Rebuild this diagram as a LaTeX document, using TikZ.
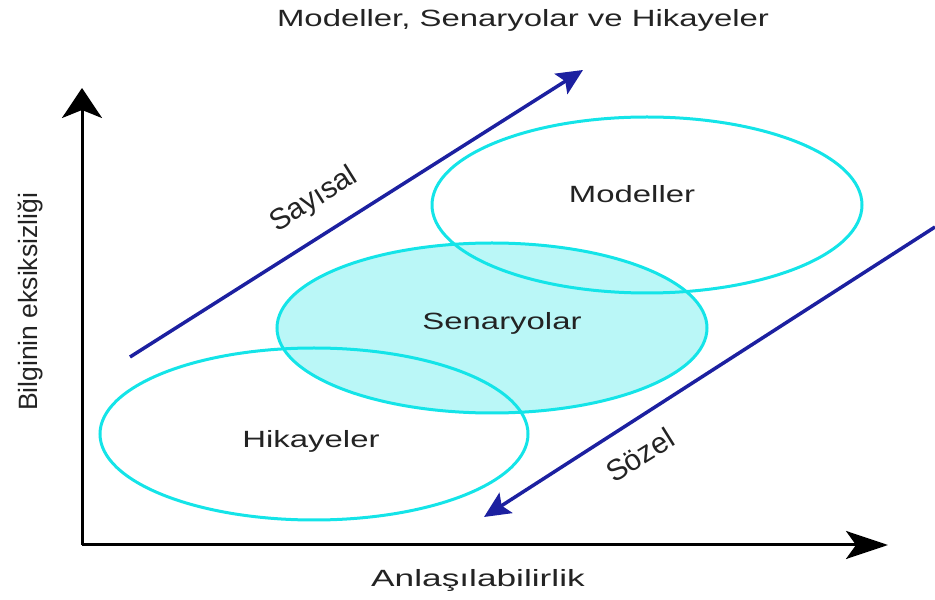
\documentclass[tikz,border=0pt]{standalone}
\usepackage{fontspec}
\setmainfont{Liberation Sans}
\usetikzlibrary{arrows.meta}
\definecolor{cyanline}{RGB}{20,228,232}
\definecolor{cyanfill}{RGB}{186,247,247}
\definecolor{darkblue}{RGB}{28,32,160}
\definecolor{txtgray}{RGB}{35,35,35}
\begin{document}
\begin{tikzpicture}[x=1pt,y=1pt,
  lbl/.style={font=\fontsize{23.5}{28}\selectfont, text=txtgray, inner sep=0pt},
  rlbl/.style={font=\fontsize{29.5}{34}\selectfont, text=txtgray, inner sep=0pt},
  ell/.style={draw=cyanline, line width=3pt},
  axisline/.style={line width=3pt, black},
  bluearrow/.style={darkblue, line width=3.5pt, -{Stealth[length=26pt,width=24pt,inset=5pt]}}
]
\useasboundingbox (0,0) rectangle (935,600);
% ellipses
\fill[cyanfill] (492,272) ellipse [x radius=215, y radius=85];
\draw[ell] (647,395) ellipse [x radius=215, y radius=88];
\draw[ell] (314,166) ellipse [x radius=214, y radius=86];
\draw[ell] (492,272) ellipse [x radius=215, y radius=85];
% axes
\coordinate (O) at (82,55);
\coordinate (ytip) at (82,512);
\coordinate (xtip) at (888,55);
\draw[axisline, -{Stealth[length=30pt,width=40pt,inset=8pt]}] (O) -- (ytip);
\draw[axisline, -{Stealth[length=42pt,width=28pt,inset=10pt]}] (O) -- (xtip);
% blue arrows
\coordinate (s1) at (130,243);
\coordinate (s2) at (583,530);
\coordinate (z1) at (935,373);
\coordinate (z2) at (484,83);
\draw[bluearrow] (s1) -- (s2);
\draw[bluearrow] (z1) -- (z2);
% labels
\node[lbl, anchor=base, xscale=1.4] (title) at (523,573) {Modeller, Senaryolar ve Hikayeler};
\node[lbl, anchor=base, xscale=1.4] (mod) at (632,397) {Modeller};
\node[lbl, anchor=base, xscale=1.4] (sen) at (502,270) {Senaryolar};
\node[lbl, anchor=base, xscale=1.4] (hik) at (311,152) {Hikayeler};
\node[lbl, anchor=base, xscale=1.5] (xl) at (478,13) {Anlaşılabilirlik};
\node[lbl, font=\fontsize{26.5}{32}\selectfont, anchor=base, rotate=90] (yl) at (38,298) {Bilginin eksiksizliği};
\node[rlbl, rotate=32] (say) at (314,400) {Sayısal};
\node[rlbl, rotate=32] (soz) at (640,145) {Sözel};
\end{tikzpicture}
\end{document}
